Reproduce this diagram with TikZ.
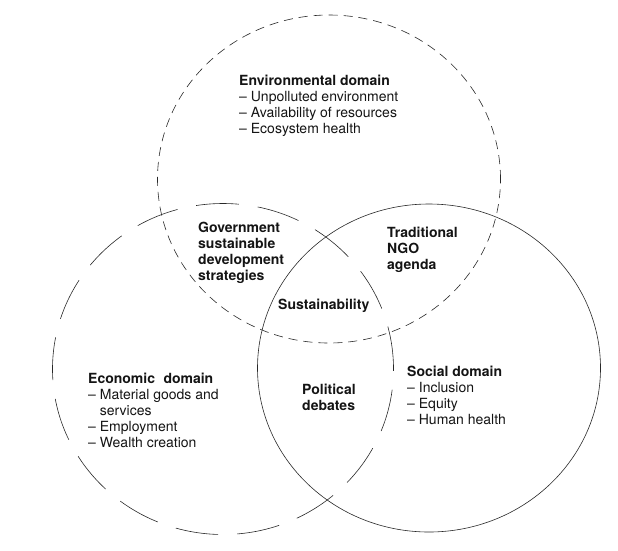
\documentclass[tikz,border=0pt]{standalone}
\usepackage{fontspec}
\setmainfont{TeX Gyre Heros}
\usetikzlibrary{positioning}
\definecolor{inkgrey}{RGB}{40,40,40}
\definecolor{inkblack}{RGB}{20,20,20}

\begin{document}
\begin{tikzpicture}[x=1pt,y=-1pt,
    ring/.style={draw=inkgrey,line width=0.6pt},
    blocktext/.style={anchor=north west,inner sep=0pt,align=left,text=inkblack,
      font=\fontsize{14}{16}\selectfont},
    pairtext/.style={blocktext,font=\fontsize{14}{16}\selectfont\bfseries}]
  \useasboundingbox (0,0) rectangle (618,550);
  \coordinate (E) at (329,179); \coordinate (C) at (223,369); \coordinate (S) at (429,368);
  \draw[ring,dash pattern=on 9pt off 6pt] (E) ellipse [x radius=171.5pt,y radius=164pt];
  \draw[ring,dash pattern=on 43pt off 19pt] (C) ellipse [x radius=170.5pt,y radius=165.5pt];
  \draw[ring] (S) ellipse [x radius=171.5pt,y radius=164pt];
  \node[blocktext] (envdomain) at (239,75) {\textbf{Environmental domain}\\– Unpolluted environment\\– Availability of resources\\– Ecosystem health};
  \node[blocktext] (ecodomain) at (88,373) {\textbf{Economic\hspace{0.6em}domain}\\– Material goods and\\\hphantom{– }services\\– Employment\\– Wealth creation};
  \node[blocktext] (socdomain) at (407,366) {\textbf{Social domain}\\– Inclusion\\– Equity\\– Human health};
  \node[pairtext] (govstrat) at (198,222) {Government\\sustainable\\development\\strategies};
  \node[pairtext] (ngoagenda) at (387,227) {Traditional\\NGO\\agenda};
  \node[pairtext] (polit) at (302,384) {Political\\debates};
  \node[pairtext] (sustain) at (278,299) {Sustainability};
\end{tikzpicture}
\end{document}
